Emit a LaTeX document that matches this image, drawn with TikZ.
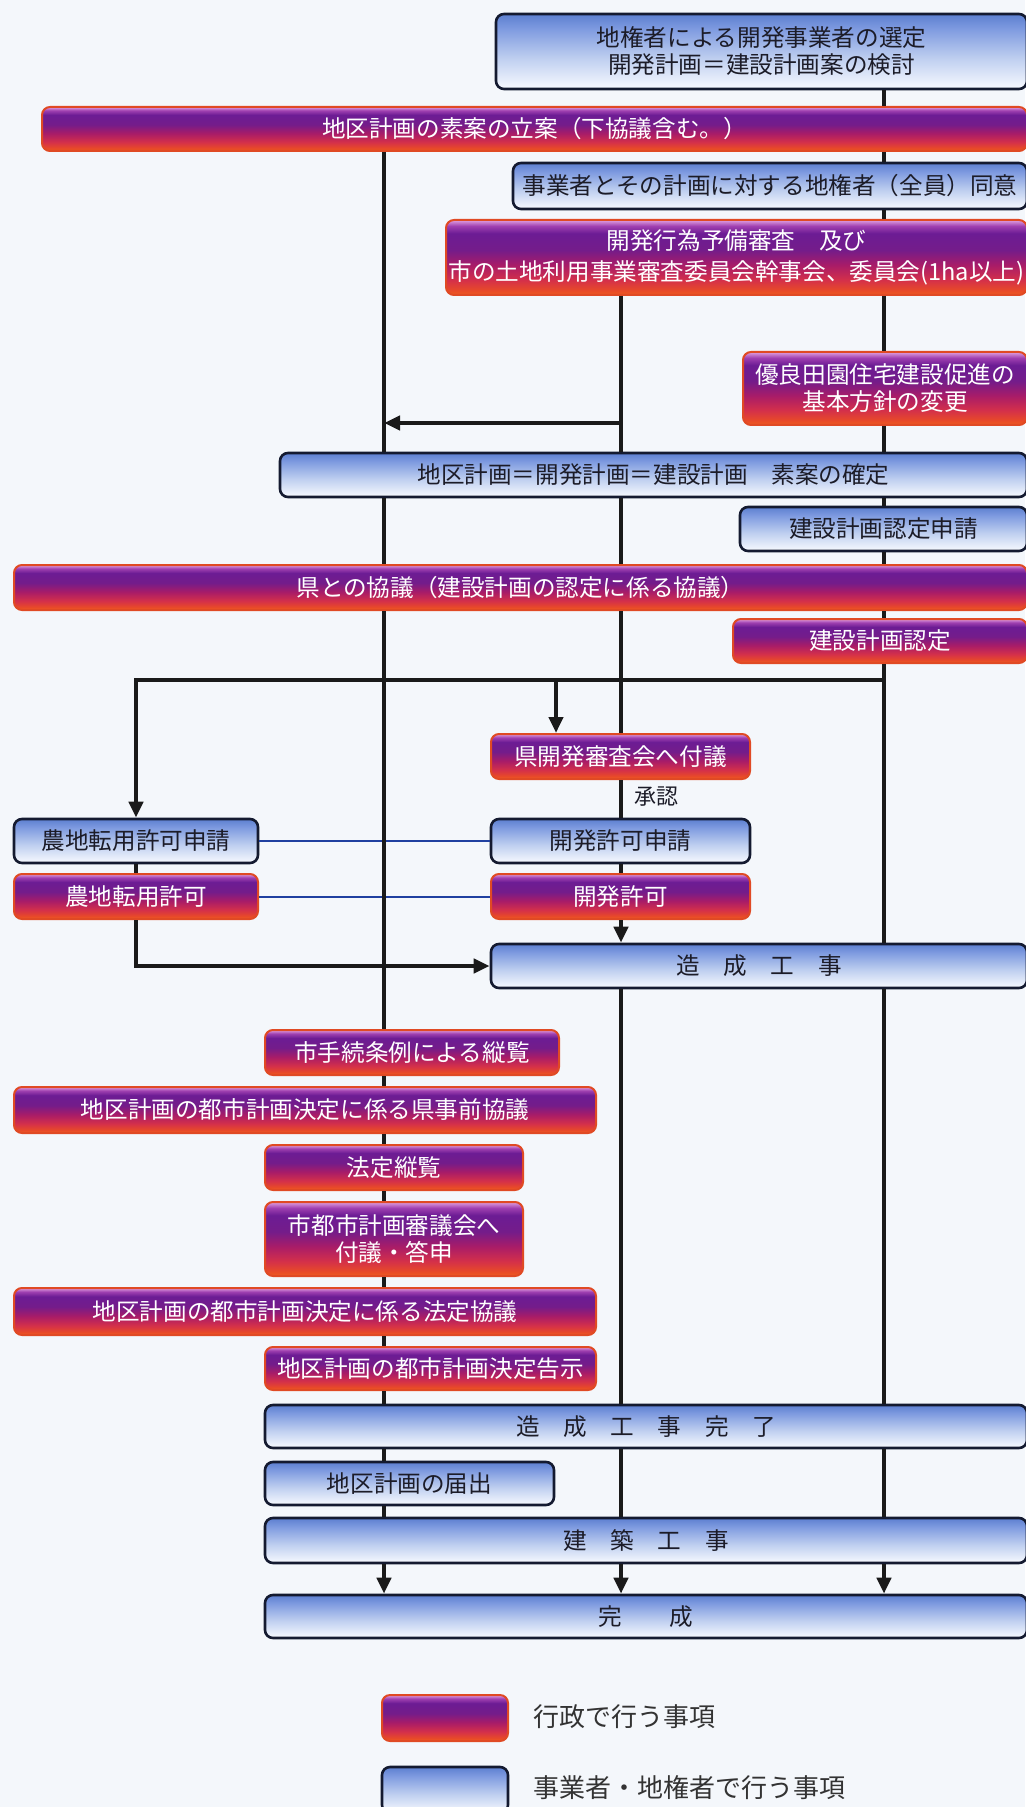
\documentclass[tikz,border=0pt]{standalone}
\usepackage{fontspec}
\setmainfont{Noto Sans CJK JP}
\usetikzlibrary{arrows.meta}
\definecolor{bg}{HTML}{F4F7FB}
\definecolor{pT}{HTML}{E0A0E0}
\definecolor{pU}{HTML}{A040B0}
\definecolor{pM}{HTML}{6C1C94}
\definecolor{pN}{HTML}{741C8A}
\definecolor{pR}{HTML}{A81C68}
\definecolor{pS}{HTML}{D4304A}
\definecolor{pO}{HTML}{E84A28}
\definecolor{pB}{HTML}{EE5C20}
\definecolor{pborder}{HTML}{E04A24}
\definecolor{bT}{HTML}{5C7FD0}
\definecolor{bU}{HTML}{7F9BE0}
\definecolor{bM}{HTML}{C0D0F0}
\definecolor{bB}{HTML}{F8FAFF}
\definecolor{bborder}{HTML}{141A30}
\definecolor{btext}{HTML}{1C1C28}
\definecolor{thin}{HTML}{2040A0}
\definecolor{conncol}{HTML}{1A1A1A}
\pgfdeclareverticalshading{purp}{100bp}{color(0bp)=(pB); color(25bp)=(pB); color(28bp)=(pO); color(35bp)=(pS); color(45bp)=(pR); color(55bp)=(pN); color(66bp)=(pM); color(71bp)=(pU); color(75bp)=(pT); color(100bp)=(pT)}
\pgfdeclareverticalshading{blu}{100bp}{color(0bp)=(bB); color(25bp)=(bB); color(45bp)=(bM); color(65bp)=(bU); color(75bp)=(bT); color(100bp)=(bT)}
\newcommand\bx[7]{%
  \pgfmathsetmacro\bxw{(#5-#3)*0.5}%
  \pgfmathsetmacro\bxh{(#6-#4)*0.5}%
  \node[#1,minimum width=\bxw pt,minimum height=\bxh pt] (#2) at ({(#3+#5)/2},{(#4+#6)/2}) {#7};}
\begin{document}
\begin{tikzpicture}[x=0.5pt,y=-0.5pt,
  boxfont/.style={font=\fontsize{11.8}{13.5}\selectfont},
  pbox/.style={draw=pborder, line width=1pt, rounded corners=4pt, shading=purp, text=white, boxfont, align=center, inner sep=0pt},
  bbox/.style={draw=bborder, line width=1.3pt, rounded corners=4pt, shading=blu, text=btext, boxfont, align=center, inner sep=0pt},
  conn/.style={line width=2pt, draw=conncol},
  arr/.style={conn, -{Triangle[length=8pt,width=7pt]}},
  bline/.style={line width=1pt, draw=thin},
  lbl/.style={text=btext, font=\fontsize{11}{13}\selectfont, inner sep=0pt},
  legtext/.style={text=black!80, font=\fontsize{13}{15}\selectfont, inner sep=0pt}]
\useasboundingbox (0,0) rectangle (1025,1807);
\fill[bg] (0,0) rectangle (1025,1807);
\coordinate (L) at (384,0);
\coordinate (M) at (621,0);
\coordinate (R) at (884,0);
\coordinate (B) at (556,0);
\coordinate (ya) at (0,423);
\coordinate (yj) at (0,680);
% boxes
\bx{bbox}{n1}{496}{14}{1027}{89}{地権者による開発事業者の選定\\開発計画＝建設計画案の検討}
\bx{pbox}{n2}{42}{107}{1027}{151}{地区計画の素案の立案（下協議含む。）}
\bx{bbox}{n3}{513}{163}{1027}{209}{事業者とその計画に対する地権者（全員）同意}
\bx{pbox,font=\fontsize{11.8}{15.5}\selectfont}{n4}{446}{220}{1027}{295}{開発行為予備審査　及び\\市の土地利用事業審査委員会幹事会、委員会(1ha以上)}
\bx{pbox}{n5}{743}{352}{1027}{425}{優良田園住宅建設促進の\\基本方針の変更}
\bx{bbox}{n6}{280}{453}{1027}{497}{地区計画＝開発計画＝建設計画　素案の確定}
\bx{bbox}{n7}{740}{507}{1027}{551}{建設計画認定申請}
\bx{pbox}{n8}{14}{565}{1027}{610}{県との協議（建設計画の認定に係る協議）}
\bx{pbox}{n9}{733}{619}{1027}{663}{建設計画認定}
\bx{pbox}{n10}{491}{734}{750}{779}{県開発審査会へ付議}
\bx{bbox}{n11}{491}{819}{750}{863}{開発許可申請}
\bx{pbox}{n12}{491}{874}{750}{919}{開発許可}
\bx{bbox}{n13}{14}{819}{258}{863}{農地転用許可申請}
\bx{pbox}{n14}{14}{874}{258}{919}{農地転用許可}
\bx{bbox}{n15}{491}{944}{1027}{988}{造　成　工　事}
\bx{pbox}{n16}{265}{1030}{559}{1075}{市手続条例による縦覧}
\bx{pbox}{n17}{14}{1087}{596}{1133}{地区計画の都市計画決定に係る県事前協議}
\bx{pbox}{n18}{265}{1145}{523}{1190}{法定縦覧}
\bx{pbox}{n19}{265}{1202}{523}{1276}{市都市計画審議会へ\\付議・答申}
\bx{pbox}{n20}{14}{1288}{596}{1335}{地区計画の都市計画決定に係る法定協議}
\bx{pbox}{n21}{265}{1347}{596}{1390}{地区計画の都市計画決定告示}
\bx{bbox}{n22}{265}{1405}{1027}{1448}{造　成　工　事　完　了}
\bx{bbox}{n23}{265}{1462}{554}{1505}{地区計画の届出}
\bx{bbox}{n24}{265}{1518}{1027}{1563}{建　築　工　事}
\bx{bbox}{n25}{265}{1595}{1027}{1638}{完　　成}
% legend
\bx{pbox}{lg1}{382}{1695}{508}{1741}{}
\bx{bbox}{lg2}{382}{1767}{508}{1813}{}
\node[legtext, anchor=west] (lt1) at (533,1717) {行政で行う事項};
\node[legtext, anchor=west] (lt2) at (533,1788) {事業者・地権者で行う事項};
% thin blue links
\draw[bline] (n13.east) -- (n11.west);
\draw[bline] (n14.east) -- (n12.west);
% right line
\draw[conn] (n1.south -| R) -- (n2.north -| R);
\draw[conn] (n2.south -| R) -- (n3.north -| R);
\draw[conn] (n3.south -| R) -- (n4.north -| R);
\draw[conn] (n4.south -| R) -- (n5.north -| R);
\draw[conn] (n5.south -| R) -- (n6.north -| R);
\draw[conn] (n6.south -| R) -- (n7.north -| R);
\draw[conn] (n7.south -| R) -- (n8.north -| R);
\draw[conn] (n8.south -| R) -- (n9.north -| R);
\draw[conn] (n9.south -| R) -- (n15.north -| R);
\draw[conn] (n15.south -| R) -- (n22.north -| R);
\draw[conn] (n22.south -| R) -- (n24.north -| R);
\draw[arr] (n24.south -| R) -- (n25.north -| R);
% middle line
\draw[conn] (n4.south -| M) -- (n6.north -| M);
\draw[arr] (ya -| M) -- (ya -| L);
\draw[conn] (n6.south -| M) -- (n8.north -| M);
\draw[conn] (n8.south -| M) -- (n10.north -| M);
\draw[conn] (n10.south -| M) -- (n11.north -| M);
\node[lbl, anchor=west] (ok) at (634,797) {承認};
\draw[conn] (n11.south -| M) -- (n12.north -| M);
\draw[arr] (n12.south -| M) -- (n15.north -| M);
\draw[conn] (n15.south -| M) -- (n22.north -| M);
\draw[conn] (n22.south -| M) -- (n24.north -| M);
\draw[arr] (n24.south -| M) -- (n25.north -| M);
% left line
\draw[conn] (n2.south -| L) -- (n6.north -| L);
\draw[conn] (n6.south -| L) -- (n8.north -| L);
\draw[conn] (n8.south -| L) -- (n16.north -| L);
\draw[conn] (n16.south -| L) -- (n17.north -| L);
\draw[conn] (n17.south -| L) -- (n18.north -| L);
\draw[conn] (n18.south -| L) -- (n19.north -| L);
\draw[conn] (n19.south -| L) -- (n20.north -| L);
\draw[conn] (n20.south -| L) -- (n21.north -| L);
\draw[conn] (n21.south -| L) -- (n22.north -| L);
\draw[conn] (n22.south -| L) -- (n23.north -| L);
\draw[conn] (n23.south -| L) -- (n24.north -| L);
\draw[arr] (n24.south -| L) -- (n25.north -| L);
% junction from right line
\draw[arr] (yj -| R) -| (n13.north);
\draw[arr] (yj -| B) -- (n10.north -| B);
% farmland path
\draw[conn] (n13.south) -- (n14.north);
\draw[arr] (n14.south) |- (n15.west);
\end{tikzpicture}
\end{document}
